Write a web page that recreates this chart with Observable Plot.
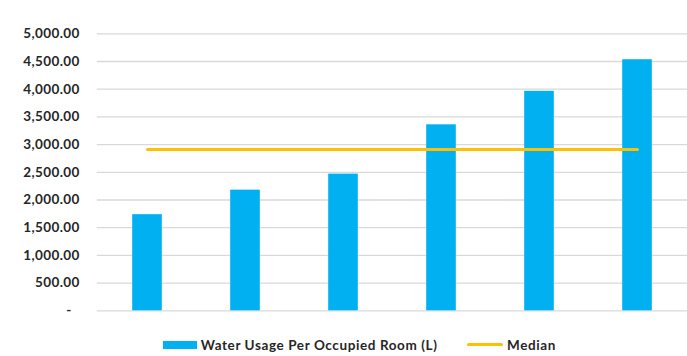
<!DOCTYPE html>
<html>
<head>
<meta charset="utf-8">
<script src="https://cdn.jsdelivr.net/npm/d3@7"></script>
<script src="https://cdn.jsdelivr.net/npm/@observablehq/plot@0.6"></script>
<style>
  html, body { margin: 0; padding: 0; background: #fff; }
  body { width: 687px; height: 356px; overflow: hidden; font-family: Lato, "Open Sans", sans-serif; }
  #legend { position: relative; height: 34px; }
  .item { position: absolute; top: 11px; height: 23px; display: flex; align-items: center; font-weight: bold; font-size: 13.5px; letter-spacing: 0.6px; color: #262626; white-space: nowrap; }
  .sw-bar { width: 34px; height: 8px; background: #00B0F0; margin-right: 4px; }
  .sw-line { width: 36px; height: 3px; background: #FFC000; margin-right: 4px; border-radius: 1.5px; }
</style>
</head>
<body>
<div id="chart"></div>
<div id="legend"></div>
<script>
// Data
const categories = ["A", "B", "C", "D", "E", "F"];
const waterUsage = [1735, 2178, 2467, 3357, 3962, 4532];
const median = 2912;
const yTicks = [0, 500, 1000, 1500, 2000, 2500, 3000, 3500, 4000, 4500, 5000];
const seriesLabels = ["Water Usage Per Occupied Room (L)", "Median"];

const rows = categories.map((c, i) => ({cat: c, value: waterUsage[i], median}));

const fmt = d3.format(",.2f");
const chart = Plot.plot({
  width: 687,
  height: 322,
  marginLeft: 96.7,
  marginRight: 0,
  marginTop: 33.3,
  marginBottom: 11.7,
  style: {fontFamily: "Lato, 'Open Sans', sans-serif", fontSize: "13.5px", fontWeight: "bold", color: "#262626", background: "#fff", letterSpacing: "0.4px"},
  x: {domain: categories, padding: 0, axis: null},
  y: {domain: [0, 5000], ticks: yTicks, axis: null},
  marks: [
    Plot.gridY(yTicks, {stroke: "#d9d9d9", strokeOpacity: 1, strokeWidth: 1.3}),
    Plot.axisY(yTicks, {tickSize: 0, tickPadding: 17.4, tickFormat: d => d === 0 ? "-\u2007" : fmt(d), fill: "#262626", fontWeight: "bold", fontSize: 13.5}),
    Plot.barY(rows, {x: "cat", y: "value", fill: "#00B0F0", insetLeft: 34.2, insetRight: 34.2}),
    Plot.lineY(rows, {x: "cat", y: "median", stroke: "#FFC000", strokeWidth: 3, strokeLinecap: "round"})
  ]
});
document.getElementById("chart").appendChild(chart);

const legend = document.getElementById("legend");
legend.innerHTML = `
  <div class="item" style="left:162.7px"><div class="sw-bar"></div><span>${seriesLabels[0]}</span></div>
  <div class="item" style="left:467px"><div class="sw-line"></div><span>${seriesLabels[1]}</span></div>`;
</script>
</body>
</html>
